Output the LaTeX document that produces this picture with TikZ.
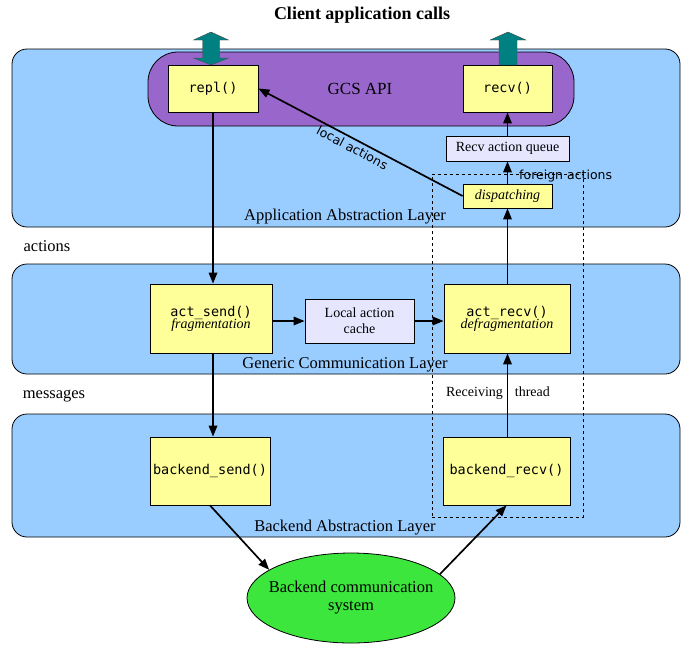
\documentclass[tikz,border=0pt]{standalone}
\usepackage{fontspec}
\setmainfont{Liberation Serif}
\setsansfont{DejaVu Sans}
\setmonofont{DejaVu Sans Mono}
\usetikzlibrary{arrows.meta,shapes.geometric}
\definecolor{layerblue}{HTML}{99CCFF}
\definecolor{apipurple}{HTML}{9966CC}
\definecolor{fyellow}{HTML}{FFFF99}
\definecolor{flav}{HTML}{E6E6FF}
\definecolor{tealarrow}{HTML}{008080}
\definecolor{egreen}{HTML}{3CE63C}
\begin{document}
\begin{tikzpicture}[x=1pt,y=-1pt,
  layer/.style={draw, fill=layerblue, rounded corners=15pt, line width=0.8pt, inner sep=0pt},
  fbox/.style={draw, fill=fyellow, line width=0.8pt, align=center, inner sep=0pt},
  qbox/.style={draw, fill=flav, line width=0.8pt, align=center, inner sep=0pt},
  flow/.style={-{Triangle[length=11pt,width=8.5pt]}, line width=1.7pt},
  lbl/.style={font=\fontsize{16.5}{19}\selectfont},
  mono/.style={font=\ttfamily\fontsize{13.5}{16}\selectfont},
  small/.style={font=\fontsize{14}{16}\selectfont},
  fat/.style={fill=tealarrow, draw=black!70, line width=0.4pt}
]
\useasboundingbox (0,0) rectangle (692,648);

% layers
\node[layer, minimum width=668pt, minimum height=178pt] (applayer) at (346,138) {};
\node[layer, minimum width=668pt, minimum height=110pt] (gclayer) at (346,319) {};
\node[layer, minimum width=668pt, minimum height=123pt] (belayer) at (346,475.5) {};

% GCS API
\node[draw, fill=apipurple, rounded corners=30pt, line width=0.8pt, minimum width=426pt, minimum height=74pt, inner sep=0pt] (api) at (361,89) {};
\node[font=\fontsize{17}{19}\selectfont] (apitext) at (360,89) {GCS API};

% dashed receiving thread region
\node[draw, dashed, line width=0.6pt, minimum width=151pt, minimum height=343pt, inner sep=0pt] (thread) at (507.5,345.5) {};

% boxes
\node[fbox, mono, minimum width=90pt, minimum height=47pt] (repl) at (213,88.5) {repl()};
\node[fbox, mono, minimum width=89pt, minimum height=47pt] (recv) at (507.5,88.5) {recv()};
\node[qbox, small, minimum width=123pt, minimum height=25pt] (queue) at (507.5,148.5) {Recv action queue};
\node[fbox, small, minimum width=89pt, minimum height=24pt] (disp) at (507.5,196) {\itshape dispatching};
\node[fbox, minimum width=122pt, minimum height=69pt] (actsend) at (211,318.5) {{\ttfamily\fontsize{13.5}{16}\selectfont act\_send()}\\[-2pt]{\itshape\fontsize{14}{16}\selectfont fragmentation}};
\node[qbox, small, minimum width=109pt, minimum height=44pt] (cache) at (359.5,321) {Local action\\cache};
\node[fbox, minimum width=126pt, minimum height=69pt] (actrecv) at (507,318.5) {{\ttfamily\fontsize{13.5}{16}\selectfont act\_recv()}\\[-2pt]{\itshape\fontsize{14}{16}\selectfont defragmentation}};
\node[fbox, mono, minimum width=120pt, minimum height=68pt] (bsend) at (210,471) {backend\_send()};
\node[fbox, mono, minimum width=127pt, minimum height=68pt] (brecv) at (506.5,471) {backend\_recv()};
\node[ellipse, draw, fill=egreen, line width=0.8pt, minimum width=208pt, minimum height=90pt, inner sep=0pt] (ell) at (351,598) {};
\node[align=center, font=\fontsize{16.5}{18}\selectfont] (elltext) at (ell.center) {Backend communication\\system};

% teal fat arrows
\filldraw[fat] (211,32) -- (228.5,40) -- (219.5,40) -- (219.5,58) -- (228.5,58) -- (211,65) -- (193.5,58) -- (202.5,58) -- (202.5,40) -- (193.5,40) -- cycle;
\filldraw[fat] (508,32) -- (526,40) -- (517,40) -- (517,65) -- (499,65) -- (499,40) -- (490,40) -- cycle;

% labels
\node[font=\bfseries\fontsize{18}{20}\selectfont] (title) at (362,15) {Client application calls};
\node[lbl] (applbl) at (345,217) {Application Abstraction Layer};
\node[lbl] (gclbl) at (345,365) {Generic Communication Layer};
\node[lbl] (belbl) at (345,528) {Backend Abstraction Layer};
\node[lbl] (actionslbl) at (47,246) {actions};
\node[lbl] (messageslbl) at (54,396) {messages};
\node[small] (rthread) at (498,393) {Receiving\hspace{12pt}thread};

% connectors
\draw[flow] (repl.south) -- (repl.south |- actsend.north);
\draw[flow] (repl.south |- actsend.south) -- (repl.south |- bsend.north);
\draw[flow] (actsend.east |- cache.east) -- (cache.west);
\draw[flow] (cache.east) -- (actrecv.west |- cache.east);
\draw[flow] (disp.south |- brecv.north) -- (disp.south |- actrecv.south);
\draw[flow] (disp.south |- actrecv.north) -- (disp.south);
\draw[flow] (disp.north) -- (queue.south);
\draw[flow] (queue.north) -- (queue.north |- recv.south);
\draw[flow] (disp.west) -- node[below, sloped, font=\sffamily\fontsize{12.5}{14}\selectfont, pos=0.52, inner sep=3pt] {local actions} (repl.east);
\draw[flow] (bsend.south) -- (ell.161);
\draw[flow] (ell.15) -- (brecv.south);
\node[font=\sffamily\fontsize{12.5}{14}\selectfont, anchor=west, inner sep=0pt] (foreign) at (519,176) {foreign actions};
\end{tikzpicture}
\end{document}
